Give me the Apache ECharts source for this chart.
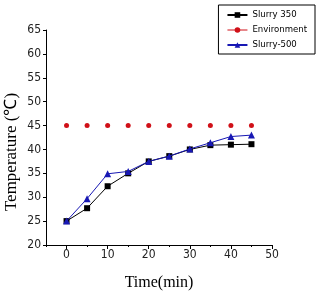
<!DOCTYPE html>
<html><head><meta charset="utf-8">
<script src="https://cdn.jsdelivr.net/npm/echarts@6/dist/echarts.min.js"></script>
<style>html,body{margin:0;padding:0;background:#fff}#c{width:318px;height:296px}</style>
</head><body><div id="c"></div>
<script>
const times = [0, 5, 10, 15, 20, 25, 30, 35, 40, 45];
const slurry350 = [25, 27.7, 32.3, 35, 37.5, 38.6, 40, 40.9, 41, 41.1];
const environment = [45, 45, 45, 45, 45, 45, 45, 45, 45, 45];
const slurry500 = [25, 29.7, 34.9, 35.4, 37.5, 38.6, 40.1, 41.4, 42.7, 43];
const xMajorTicks = [0, 10, 20, 30, 40, 50];
const yTicks = [20, 25, 30, 35, 40, 45, 50, 55, 60, 65];
const names = ['Slurry 350', 'Environment', 'Slurry-500'];
const yTitle = 'Temperature (\u2103)';

const pair = (xs, ys) => xs.map((x, i) => [x, ys[i]]);
const tickFont = 'Liberation Sans Narrow, DejaVu Sans Condensed, Arial Narrow, sans-serif';
const BLACK = '#000', RED = '#d01018', BLUE = '#1818b4';

const chart = echarts.init(document.getElementById('c'), null, {renderer: 'canvas'});
chart.setOption({
  animation: false,
  backgroundColor: '#fff',
  grid: {left: 46, right: 46, top: 30, bottom: 51, containLabel: false, outerBoundsMode: 'none'},
  graphic: [{
    type: 'text', x: 12, y: 152, rotation: Math.PI / 2,
    style: {text: yTitle, fontFamily: 'Liberation Serif, serif', fontSize: 17,
      fill: '#000', align: 'center', verticalAlign: 'middle'}
  }],
  legend: {
    show: true,
    orient: 'vertical',
    right: 3, top: 5,
    padding: [5, 8, 4, 8],
    borderColor: '#000', borderWidth: 1, borderRadius: 0,
    itemGap: 5, itemWidth: 20, itemHeight: 7,
    textStyle: {fontFamily: tickFont, fontSize: 9.5, color: '#000'},
    data: [
      {name: names[0]},
      {name: names[1], lineStyle: {width: 1, color: RED, opacity: 1, type: 'solid'}},
      {name: names[2]}
    ]
  },
  xAxis: [{
    type: 'value', min: -5, max: 50, interval: 5,
    name: 'Time(min)', nameLocation: 'middle', nameGap: 30,
    nameTextStyle: {fontFamily: 'Liberation Serif, serif', fontSize: 16, color: '#000'},
    axisLine: {show: true, onZero: false, lineStyle: {color: '#000', width: 1}},
    axisTick: {show: true, inside: false, length: 2, lineStyle: {color: '#000'}},
    axisLabel: {show: false},
    splitLine: {show: false}
  }, {
    type: 'value', min: -5, max: 50, interval: 5, position: 'bottom',
    axisLine: {show: false},
    axisTick: {show: true, length: 4, customValues: xMajorTicks, lineStyle: {color: '#000'}},
    axisLabel: {show: true, customValues: xMajorTicks, margin: 4,
      fontFamily: tickFont, fontSize: 12, color: '#222'},
    splitLine: {show: false}
  }],
  yAxis: {
    type: 'value', min: 20, max: 65, interval: 5,
    axisLine: {show: true, onZero: false, lineStyle: {color: '#000', width: 1}},
    axisTick: {show: true, length: 3, lineStyle: {color: '#000'}},
    axisLabel: {show: true, margin: 5, fontFamily: tickFont, fontSize: 12, color: '#222',
      formatter: v => yTicks.includes(v) ? String(v) : ''},
    splitLine: {show: false}
  },
  series: [
    {name: names[0], type: 'line', xAxisIndex: 0, data: pair(times, slurry350),
     symbol: 'rect', symbolSize: 6, color: BLACK,
     lineStyle: {width: 1, color: BLACK}, itemStyle: {color: BLACK}, z: 3},
    {name: names[1], type: 'line', xAxisIndex: 0, data: pair(times, environment),
     symbol: 'circle', symbolSize: 5, color: RED,
     lineStyle: {width: 0, opacity: 0}, itemStyle: {color: RED}, z: 2},
    {name: names[2], type: 'line', xAxisIndex: 0, data: pair(times, slurry500),
     symbol: 'triangle', symbolSize: 7, color: BLUE,
     lineStyle: {width: 1, color: BLUE}, itemStyle: {color: BLUE}, z: 4}
  ]
});
</script></body></html>
